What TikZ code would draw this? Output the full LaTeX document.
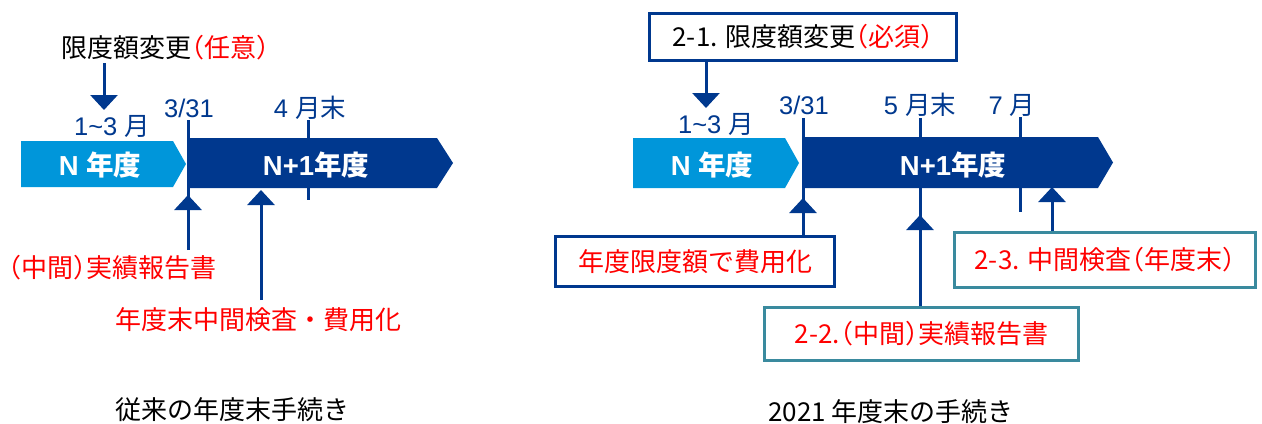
\documentclass[tikz,border=0pt]{standalone}
\usepackage{fontspec}
\setmainfont{Liberation Sans}
\newfontfamily\jp{Noto Sans CJK JP}
\newfontfamily\jph[RawFeature=+halt]{Noto Sans CJK JP}
\newcommand{\lp}{{\jph （}}
\newcommand{\rp}{{\jph ）}}
\usetikzlibrary{arrows.meta}
\definecolor{lblue}{RGB}{0,150,218}
\definecolor{navy}{RGB}{0,56,142}
\definecolor{tealb}{RGB}{58,138,158}
\definecolor{jred}{RGB}{255,0,0}
\begin{document}
\begin{tikzpicture}[x=1bp,y=-1bp,
  tick/.style={navy,line width=3bp},
  uparrow/.style={navy,line width=3bp,-{Triangle[width=27bp,length=15bp]}},
  lbl/.style={navy,inner sep=0,font=\fontsize{25.5bp}{28bp}\selectfont},
  jtxt/.style={inner sep=0,font=\jp\fontsize{26bp}{30bp}\selectfont},
  bartxt/.style={white,inner sep=0,font=\bfseries\fontsize{27.5bp}{30bp}\selectfont},
  nbox/.style={draw=navy,line width=3bp,fill=white,inner sep=0,font=\jp\fontsize{26bp}{30bp}\selectfont},
  tbox/.style={draw=tealb,line width=3bp,fill=white,inner sep=0,text=jred,font=\jp\fontsize{26bp}{30bp}\selectfont}
]
\useasboundingbox (0,0) rectangle (1262,423);

% ---------------- left diagram ----------------
\coordinate (L331t) at (188,120);
\coordinate (L331b) at (188,250);
\coordinate (L331a) at (188,195);
\coordinate (L4t) at (308,120);
\coordinate (L4b) at (308,200);
\coordinate (Lia) at (261,190);
\coordinate (Lib) at (261,300);
\coordinate (Lda) at (104,63);
\coordinate (Ldb) at (104,110);

\draw[tick] (L331t) -- (L331b);
\draw[tick] (L4t) -- (L4b);
\fill[lblue] (21,141) -- (173,141) -- (186,164) -- (173,187) -- (21,187) -- cycle;
\fill[navy] (188,138) -- (437,138) -- (453,163) -- (437,188) -- (188,188) -- cycle;

\node[jtxt,anchor=west] (limL) at (61,48) {限度額変更{\color{jred}\lp 任意\rp}};
\node[lbl] (m13L) at (112,126) {1\textasciitilde 3 {\jp 月}};
\node[lbl] (d331L) at (189,108) {3/31};
\node[lbl] (m4L) at (310,108) {4 {\jp 月末}};
\node[bartxt] (nL) at (100,165) {N {\jp\bfseries 年度}};
\node[bartxt] (n1L) at (316,165) {N+1{\jp\bfseries 年度}};
\node[jtxt,text=jred,anchor=west] (repL) at (8,268) {\lp 中間\rp 実績報告書};
\node[jtxt,text=jred,anchor=west] (insL) at (115,320) {年度末中間検査・費用化};
\node[jtxt,anchor=west] (capL) at (115,410) {従来の年度末手続き};

\draw[uparrow] (Lda) -- (Ldb);
\draw[uparrow] (L331b) -- (L331a);
\draw[uparrow] (Lib) -- (Lia);

% ---------------- right diagram ----------------
\node[nbox,minimum width=307bp,minimum height=47bp] (b21) at (803,37)
  {2-1. 限度額変更{\color{jred}\lp 必須\rp}};
\node[nbox,text=jred,minimum width=279bp,minimum height=50bp] (bcost) at (695,261.5) {年度限度額で費用化};
\node[tbox,minimum width=314bp,minimum height=53bp] (b22) at (921.5,334) {2-2.\lp 中間\rp 実績報告書};
\node[tbox,minimum width=301bp,minimum height=55bp] (b23) at (1105,260) {2-3. 中間検査\lp 年度末\rp};

\coordinate (R331t) at (803,118);
\coordinate (R331a) at (803,198);
\coordinate (R5t) at (920,118);
\coordinate (R5a) at (920,215);
\coordinate (R7t) at (1020,117);
\coordinate (R7b) at (1020,212);
\coordinate (R23a) at (1052,187);
\coordinate (R21a) at (706,108);

\draw[tick] (R331t) -- (bcost.north -| R331t);
\draw[tick] (R5t) -- (b22.north -| R5t);
\draw[tick] (R7t) -- (R7b);
\fill[lblue] (633,138) -- (785,138) -- (799,163) -- (785,188) -- (633,188) -- cycle;
\fill[navy] (802,137) -- (1098,137) -- (1113,162.5) -- (1098,188) -- (802,188) -- cycle;

\node[lbl] (m13R) at (716,124) {1\textasciitilde 3 {\jp 月}};
\node[lbl] (d331R) at (804,105) {3/31};
\node[lbl] (m5R) at (920,105) {5 {\jp 月末}};
\node[lbl] (m7R) at (1012,105) {7 {\jp 月}};
\node[bartxt] (nR) at (712,165) {N {\jp\bfseries 年度}};
\node[bartxt] (n1R) at (953,165) {N+1{\jp\bfseries 年度}};
\node[jtxt,anchor=west] (capR) at (768,412) {2021 年度末の手続き};

\draw[uparrow] (b21.south -| R21a) -- (R21a);
\draw[uparrow] (bcost.north -| R331a) -- (R331a);
\draw[uparrow] (b22.north -| R5a) -- (R5a);
\draw[uparrow] (b23.north -| R23a) -- (R23a);
\end{tikzpicture}
\end{document}
